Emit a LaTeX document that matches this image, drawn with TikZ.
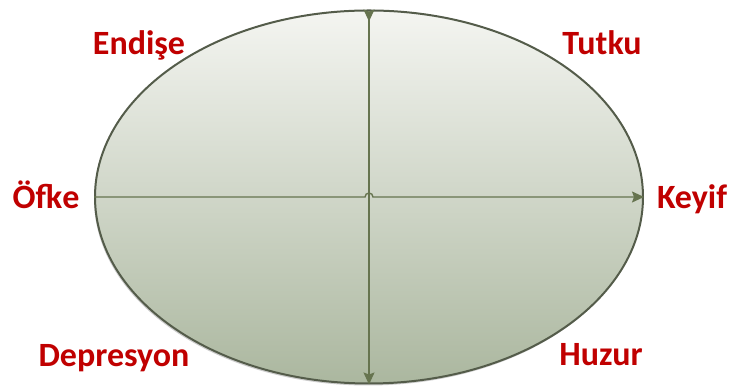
\documentclass[tikz,border=0pt]{standalone}
\usepackage{fontspec}
\setmainfont{Carlito}
\usepackage{xcolor}
\usetikzlibrary{arrows.meta,positioning,shapes.geometric,shadows}
\definecolor{moodred}{HTML}{C00000}
\definecolor{rimgray}{HTML}{545C4A}
\definecolor{axisgreen}{HTML}{66744F}
\definecolor{fillhi}{HTML}{F4F5F1}
\definecolor{filllo}{HTML}{ABB79F}
\tikzset{
  plane/.style={draw=rimgray, line width=2pt, ellipse, inner sep=0pt,
    minimum width=548pt, minimum height=373pt, top color=fillhi, bottom color=filllo,
    drop shadow={shadow xshift=-1pt, shadow yshift=-2pt, opacity=0.4}},
  mood/.style={text=moodred, font=\bfseries\fontsize{34}{40}\selectfont, anchor=base, inner sep=0pt},
  axis/.style={draw=axisgreen, line width=1.4pt, -{Stealth[length=12pt,width=11pt,inset=2pt]}},
}
\begin{document}
\begin{tikzpicture}[x=1pt,y=1pt]
  \useasboundingbox (0,0) rectangle (732,387);
  \node[plane] (ell) at (369,190) {};
  % axes
  \draw[axis, {Stealth[length=12pt,width=11pt,inset=2pt,reversed]}-{Stealth[length=12pt,width=11pt,inset=2pt]}] (ell.north) -- (ell.south);
  \draw[axis] (ell.west) -- ([xshift=-4pt]ell.center) arc[start angle=180, end angle=0, radius=4pt] -- (ell.east);
  % labels
  \node[mood] (endise) at (139,332) {Endişe};
  \node[mood] (tutku) at (602,332) {Tutku};
  \node[mood] (ofke) at (46,178) {Öfke};
  \node[mood] (keyif) at (692,178) {Keyif};
  \node[mood] (depr) at (114,20) {Depresyon};
  \node[mood] (huzur) at (601,21) {Huzur};
\end{tikzpicture}
\end{document}
